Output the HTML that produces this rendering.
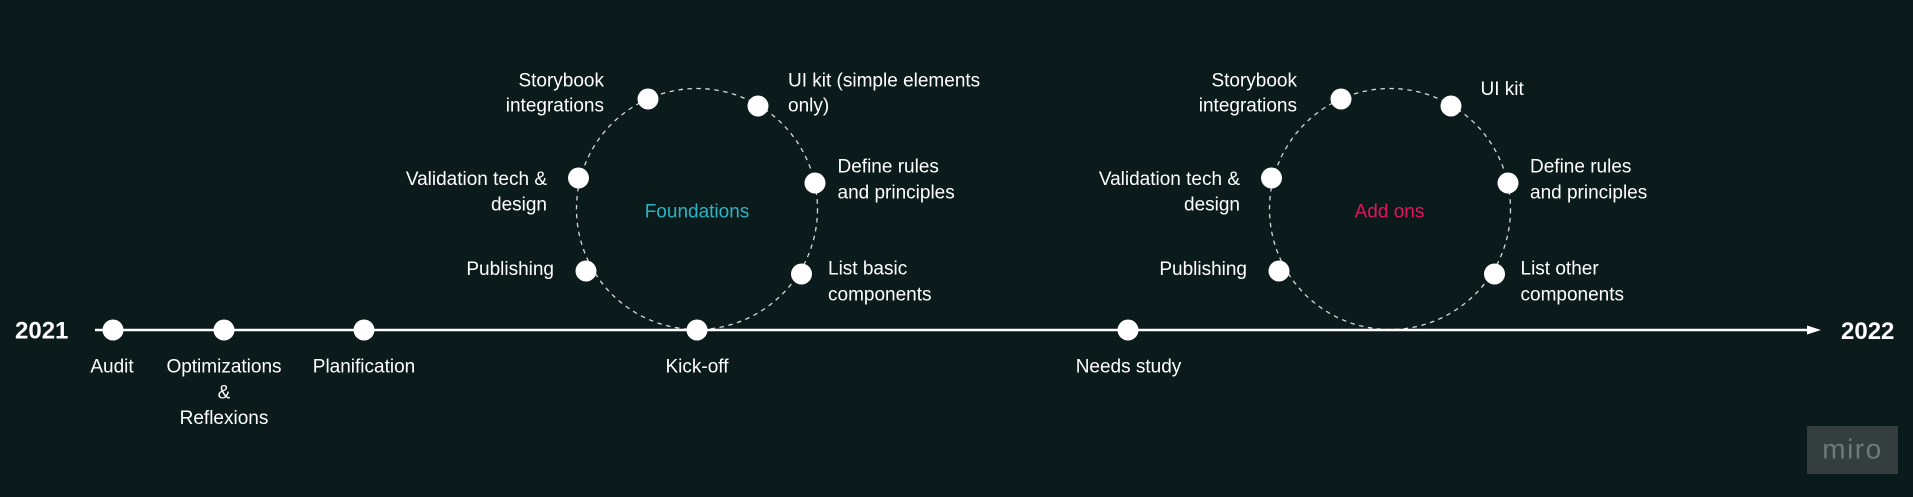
<!DOCTYPE html>
<html><head><meta charset="utf-8"><style>
html,body{margin:0;padding:0;background:#0b1a1b;}
svg{display:block;}
text{font-family:"Liberation Sans",sans-serif;font-size:19px;fill:#fff;}
</style></head><body>
<svg width="1913" height="497" viewBox="0 0 1913 497" xmlns="http://www.w3.org/2000/svg">
<rect width="1913" height="497" fill="#0b1a1b"/>
<!-- dashed circles -->
<circle cx="697" cy="209" r="120.5" fill="none" stroke="#d4d8d8" stroke-width="1.3" stroke-dasharray="4.5 4.5"/>
<circle cx="1390" cy="209" r="120.5" fill="none" stroke="#d4d8d8" stroke-width="1.3" stroke-dasharray="4.5 4.5"/>
<!-- timeline -->
<line x1="95" y1="330" x2="1810" y2="330" stroke="#fff" stroke-width="2.6"/>
<polygon points="1807,325.5 1821,330 1807,334.5" fill="#fff"/>
<!-- timeline dots -->
<g fill="#fff">
<circle cx="113" cy="330" r="10.5"/>
<circle cx="224" cy="330" r="10.5"/>
<circle cx="364" cy="330" r="10.5"/>
<circle cx="697" cy="330" r="10.5"/>
<circle cx="1128" cy="330" r="10.5"/>
<!-- foundations -->
<circle cx="648" cy="99" r="10.5"/>
<circle cx="758" cy="106" r="10.5"/>
<circle cx="578.5" cy="178" r="10.5"/>
<circle cx="815" cy="183" r="10.5"/>
<circle cx="586" cy="271" r="10.5"/>
<circle cx="801.5" cy="274" r="10.5"/>
<!-- add ons -->
<circle cx="1341" cy="99" r="10.5"/>
<circle cx="1451" cy="106" r="10.5"/>
<circle cx="1271.5" cy="178" r="10.5"/>
<circle cx="1508" cy="183" r="10.5"/>
<circle cx="1279" cy="271" r="10.5"/>
<circle cx="1494.5" cy="274" r="10.5"/>
</g>
<!-- years -->
<text x="15" y="338.5" style="font-size:24px;font-weight:bold">2021</text>
<text x="1841" y="339" style="font-size:24px;font-weight:bold">2022</text>
<!-- timeline labels -->
<g text-anchor="middle">
<text x="112" y="372.5">Audit</text>
<text x="224" y="372.5">Optimizations</text>
<text x="224" y="398.5">&amp;</text>
<text x="224" y="424">Reflexions</text>
<text x="364" y="372.5">Planification</text>
<text x="697" y="372.5">Kick-off</text>
<text x="1128.5" y="372.5">Needs study</text>
<text x="697" y="217.5" style="fill:#2bb5c2">Foundations</text>
<text x="1389.5" y="217.5" style="fill:#e2145f">Add ons</text>
</g>
<!-- Foundations labels -->
<g text-anchor="end">
<text x="604" y="86.5">Storybook</text>
<text x="604" y="111.5">integrations</text>
<text x="547" y="185">Validation tech &amp;</text>
<text x="547" y="210.5">design</text>
<text x="554" y="275">Publishing</text>
<text x="1297" y="86.5">Storybook</text>
<text x="1297" y="111.5">integrations</text>
<text x="1240" y="185">Validation tech &amp;</text>
<text x="1240" y="210.5">design</text>
<text x="1247" y="275">Publishing</text>
</g>
<g>
<text x="788" y="86.5">UI kit (simple elements</text>
<text x="788" y="111.5">only)</text>
<text x="837.5" y="172.5">Define rules</text>
<text x="837.5" y="198.5">and principles</text>
<text x="828" y="274.5">List basic</text>
<text x="828" y="300.5">components</text>
<text x="1480.5" y="95">UI kit</text>
<text x="1530" y="172.5">Define rules</text>
<text x="1530" y="198.5">and principles</text>
<text x="1520.5" y="274.5">List other</text>
<text x="1520.5" y="300.5">components</text>
</g>
<!-- miro badge -->
<rect x="1807" y="426" width="91" height="48" fill="#343e3f"/>
<text x="1852.5" y="458.5" text-anchor="middle" style="font-size:28px;fill:#6e7879;letter-spacing:1.5px">miro</text>
</svg>
</body></html>
